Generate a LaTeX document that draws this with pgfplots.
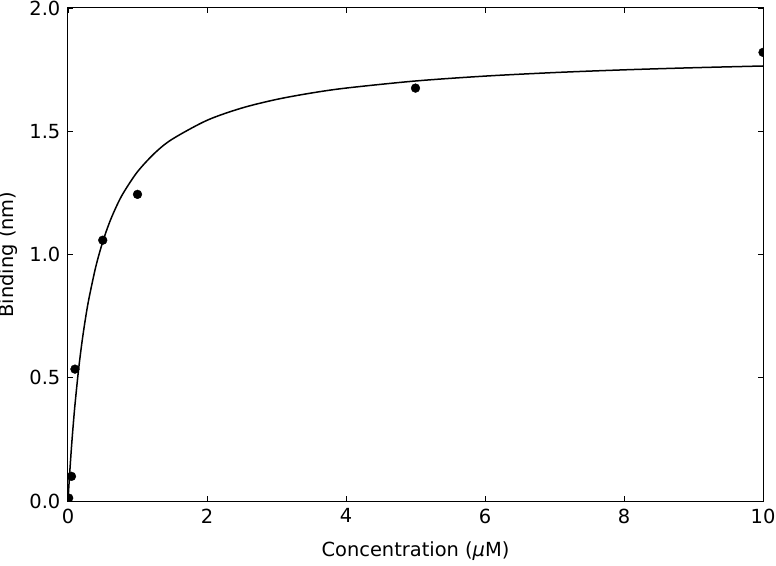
\documentclass[border=0pt]{standalone}
\usepackage{fontspec}
\setmainfont{DejaVu Sans}
\usepackage{pgfplots}
\pgfplotsset{compat=1.18}
\usetikzlibrary{calc}
\begin{document}
\fontsize{19.5}{23}\selectfont
\begin{tikzpicture}
\begin{axis}[
  scale only axis,
  width=695bp, height=493bp,
  xmin=0, xmax=10, ymin=0, ymax=2.0,
  xtick={0,2,4,6,8,10},
  ytick={0,0.5,1.0,1.5,2.0},
  yticklabel style={xshift=-1bp, /pgf/number format/.cd,fixed,fixed zerofill,precision=1},
  /pgf/number format/assume math mode=true,
  tick align=inside,
  major tick length=5bp,
  tick style={black, line width=0.6bp},
  minor tick num=0,
  axis line style={line width=1bp},
  xlabel={Concentration (\textit{μ}M)},
  ylabel={Binding (nm)},
  xlabel style={at={(axis description cs:0.5,-0.1014)}, anchor=center},
  ylabel style={at={(axis description cs:-0.0863,0.5)}, anchor=center},
  xticklabel style={yshift=-1bp},
  ticklabel style={font=\fontsize{19.5}{23}\selectfont},
  label style={font=\fontsize{19.5}{23}\selectfont},
  clip marker paths=true,
]
\addplot[black, line width=1.5bp, smooth, no markers] coordinates {
(0,0) (0.01,0.0482) (0.02,0.0938) (0.03,0.137) (0.05,0.2179) (0.07,0.2911) (0.1,0.3894) (0.15,0.5279) (0.2,0.6421) (0.25,0.7379) (0.3,0.8194) (0.4,0.9506) (0.5,1.0517) (0.6,1.1320) (0.7,1.1972) (0.8,1.2513) (1.0,1.3358) (1.25,1.4120) (1.5,1.4679) (2,1.5443) (2.5,1.5941) (3,1.6291) (3.5,1.655) (4,1.6751) (5,1.7039) (6,1.7237) (7,1.7381) (8,1.7491) (9,1.7577) (10,1.7647)
};
\addplot[only marks, mark=*, mark size=4.4bp, black] coordinates {
(0.01,0.012) (0.05,0.10) (0.1,0.535) (0.5,1.058) (1.0,1.244) (5.0,1.675) (10.0,1.82)
};
\end{axis}
\pgfresetboundingbox
\path[use as bounding box] ($(current axis.south west)+(-68bp,-65bp)$) rectangle ($(current axis.north east)+(13bp,8bp)$);
\end{tikzpicture}
\end{document}
